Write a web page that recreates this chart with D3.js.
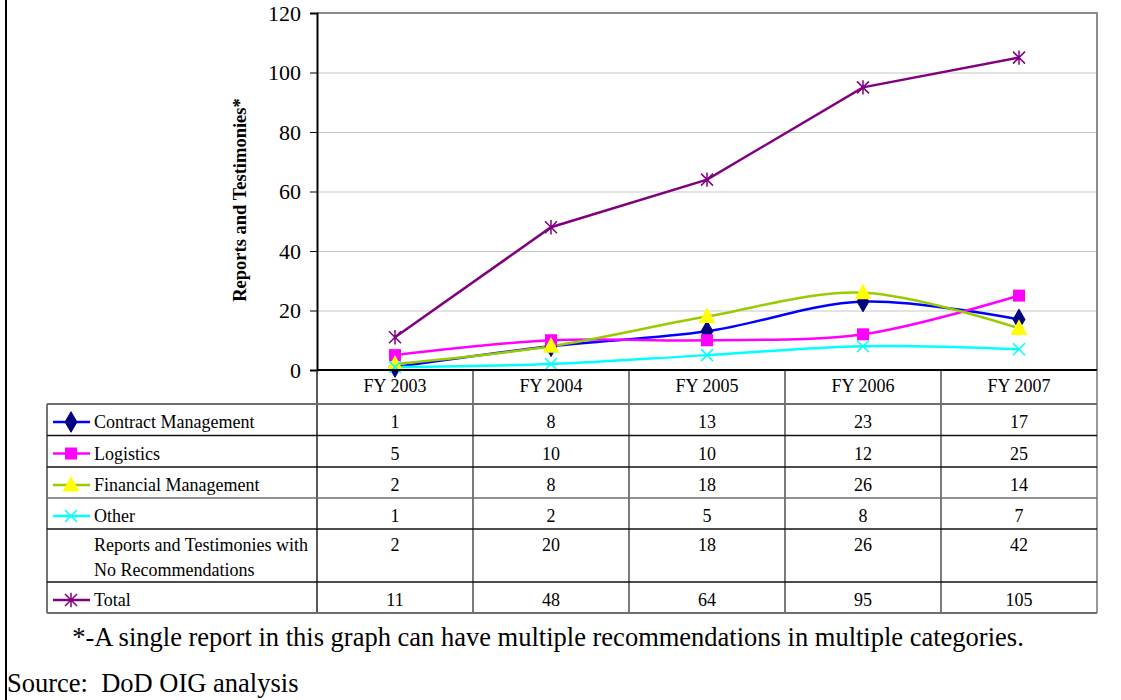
<!DOCTYPE html>
<html>
<head>
<meta charset="utf-8">
<script src="https://cdn.jsdelivr.net/npm/d3@7"></script>
<style>
  body { margin: 0; background: #fff; }
  svg text { font-family: "Liberation Serif", "Times New Roman", serif; }
  .grid line { stroke: #c8c8c8; }
  .grid path { display: none; }
</style>
</head>
<body>
<div id="chart-container"></div>
<script>
// dados do grafico
const years = ["FY 2003", "FY 2004", "FY 2005", "FY 2006", "FY 2007"];
const contractMgmt = [1, 8, 13, 23, 17];
const logistics = [5, 10, 10, 12, 25];
const financialMgmt = [2, 8, 18, 26, 14];
const other = [1, 2, 5, 8, 7];
const noRecommendations = [2, 20, 18, 26, 42];
const total = [11, 48, 64, 95, 105];
const yTicks = [0, 20, 40, 60, 80, 100, 120];

const series = [
  { name: "Contract Management", values: contractMgmt, line: "#0000ff", fill: "#000080", marker: "diamond", smooth: true },
  { name: "Logistics", values: logistics, line: "#ff00ff", fill: "#ff00ff", marker: "square", smooth: true },
  { name: "Financial Management", values: financialMgmt, line: "#99cc00", fill: "#ffff00", marker: "triangle", smooth: true },
  { name: "Other", values: other, line: "#00ffff", fill: "#00ffff", marker: "x", smooth: true },
  { name: ["Reports and Testimonies with", "No Recommendations"], values: noRecommendations, line: null },
  { name: "Total", values: total, line: "#800080", fill: "#800080", marker: "star", smooth: false }
];

const width = 1121, height = 700;
const svg = d3.select("#chart-container").append("svg")
  .attr("width", width).attr("height", height);

const plotL = 317, plotR = 1097, plotT = 13, plotB = 370;

const x = d3.scaleBand().domain(years).range([plotL, plotR]).padding(0);
const y = d3.scaleLinear().domain([0, 120]).range([plotB, plotT]);
const cx = d => x(d) + x.bandwidth() / 2;

// borda esquerda
svg.append("line").attr("x1", 6).attr("x2", 6).attr("y1", 0).attr("y2", height)
  .attr("stroke", "#000").attr("stroke-width", 2);

// linhas de grade
svg.append("g").attr("class", "grid")
  .attr("transform", `translate(${plotL},0)`)
  .call(d3.axisLeft(y).tickValues(yTicks.slice(1, -1)).tickSize(-(plotR - plotL)).tickFormat(""));

// borda do plot (topo e direita)
svg.append("path")
  .attr("d", `M${plotL},${plotT}H${plotR}V${plotB}`)
  .attr("fill", "none").attr("stroke", "#8c8c8c").attr("stroke-width", 2);

// eixo Y
const yAxis = svg.append("g")
  .attr("transform", `translate(${plotL},0)`)
  .call(d3.axisLeft(y).tickValues(yTicks).tickSize(7).tickPadding(9));
yAxis.select(".domain").attr("stroke", "#000").attr("stroke-width", 2);
yAxis.selectAll(".tick line").attr("stroke", "#000");
yAxis.selectAll("text").attr("font-size", 22).attr("fill", "#000");

// titulo lateral
svg.append("text")
  .attr("transform", "translate(246,200) rotate(-90)")
  .attr("text-anchor", "middle")
  .attr("font-size", 18.5).attr("font-weight", "bold")
  .text("Reports and Testimonies*");

// marcadores
function marker(g, type, fill, s) {
  if (type === "diamond") {
    g.append("path").attr("d", d3.symbol(d3.symbolDiamond, s * s * 0.85)())
      .attr("fill", fill).attr("stroke", fill);
  } else if (type === "square") {
    g.append("rect").attr("x", -s / 2).attr("y", -s / 2).attr("width", s).attr("height", s)
      .attr("fill", fill);
  } else if (type === "triangle") {
    const h = s * 1.05;
    g.append("path").attr("d", `M0,${-h * 0.62}L${s * 0.6},${h * 0.45}L${-s * 0.6},${h * 0.45}Z`)
      .attr("fill", fill);
  } else if (type === "x") {
    const r = s / 2;
    g.append("path").attr("d", `M${-r},${-r}L${r},${r}M${-r},${r}L${r},${-r}`)
      .attr("stroke", fill).attr("stroke-width", 1.5).attr("fill", "none");
  } else if (type === "star") {
    const r = s / 2;
    g.append("path").attr("d", `M${-r},${-r}L${r},${r}M${-r},${r}L${r},${-r}M0,${-r * 1.2}L0,${r * 1.2}`)
      .attr("stroke", fill).attr("stroke-width", 1.5).attr("fill", "none");
  }
}

// linhas
const plotted = series.filter(s => s.line);
plotted.forEach(s => {
  const line = d3.line()
    .x((v, i) => cx(years[i]))
    .y(v => y(v))
    .curve(s.smooth ? d3.curveCatmullRom.alpha(0.5) : d3.curveLinear);
  svg.append("path").datum(s.values)
    .attr("d", line)
    .attr("fill", "none").attr("stroke", s.line).attr("stroke-width", 2.5);
});
plotted.forEach(s => {
  s.values.forEach((v, i) => {
    const g = svg.append("g").attr("transform", `translate(${cx(years[i])},${y(v)})`);
    marker(g, s.marker, s.fill, s.marker === "triangle" ? 14 : 12);
  });
});

// eixo X (linha zero)
svg.append("line").attr("x1", plotL).attr("x2", plotR).attr("y1", plotB).attr("y2", plotB)
  .attr("stroke", "#000").attr("stroke-width", 2);

// tabela de dados
const tableLeft = 47;
const rowEdges = [404, 435.5, 467, 498, 529, 582, 613];
const tbl = svg.append("g").attr("font-size", 18).attr("fill", "#000");

// cabecalho
years.forEach(yr => {
  tbl.append("text").attr("x", cx(yr)).attr("y", 392).attr("text-anchor", "middle").text(yr);
});
// linhas verticais
years.concat(["end"]).forEach((yr, i) => {
  const xx = i < years.length ? x(yr) : plotR;
  svg.append("line").attr("x1", xx).attr("x2", xx).attr("y1", plotB).attr("y2", rowEdges[rowEdges.length - 1])
    .attr("stroke", i === years.length ? "#555" : "#222").attr("stroke-width", i === 0 ? 1.5 : 1.2);
});
svg.append("line").attr("x1", tableLeft).attr("x2", tableLeft).attr("y1", rowEdges[0]).attr("y2", rowEdges[rowEdges.length - 1])
  .attr("stroke", "#444").attr("stroke-width", 1.5);
rowEdges.forEach((ry, i) => {
  svg.append("line").attr("x1", tableLeft).attr("x2", plotR).attr("y1", ry).attr("y2", ry)
    .attr("stroke", (i === 0 || i === rowEdges.length - 1 || i === 3) ? "#6e6e6e" : "#111")
    .attr("stroke-width", (i === 0 || i === rowEdges.length - 1) ? 2 : 1.3);
});

series.forEach((s, r) => {
  const top0 = rowEdges[r];
  const base = Array.isArray(s.name) ? top0 + 22 : top0 + 24;
  if (Array.isArray(s.name)) {
    s.name.forEach((t, k) => {
      tbl.append("text").attr("x", 94).attr("y", base + k * 25).text(t);
    });
  } else {
    tbl.append("text").attr("x", 94).attr("y", base).text(s.name);
  }
  if (s.line) {
    const ky = top0 + 18;
    svg.append("line").attr("x1", 53).attr("x2", 90).attr("y1", ky).attr("y2", ky)
      .attr("stroke", s.line).attr("stroke-width", 2.5);
    const g = svg.append("g").attr("transform", `translate(71,${ky})`);
    marker(g, s.marker, s.fill, s.marker === "triangle" ? 14 : 12);
  }
  s.values.forEach((v, i) => {
    tbl.append("text").attr("x", cx(years[i])).attr("y", base).attr("text-anchor", "middle").text(v);
  });
});

// nota de rodape
svg.append("text").attr("x", 548).attr("y", 646).attr("text-anchor", "middle")
  .attr("font-size", 26.5)
  .text("*-A single report in this graph can have multiple recommendations in multiple categories.");

svg.append("text").attr("x", 7).attr("y", 692).attr("font-size", 26.5)
  .style("white-space", "pre")
  .text("Source:  DoD OIG analysis");
</script>
</body>
</html>
